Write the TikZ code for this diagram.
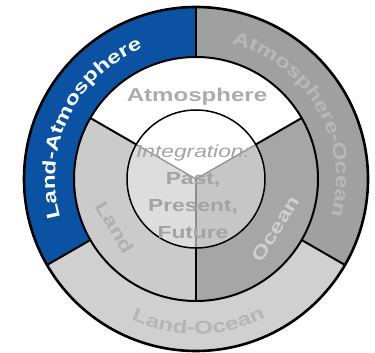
\documentclass[tikz,border=0pt]{standalone}
\usepackage{fontspec}
\setmainfont{Liberation Sans}
\newfontfamily\ringfont[FakeStretch=1.3]{Liberation Sans}
\usepackage{tikz}
\usetikzlibrary{calc,decorations.text}
\definecolor{landatm}{RGB}{12,82,162}
\definecolor{atmocean}{RGB}{160,160,160}
\definecolor{landocean}{RGB}{208,208,208}
\definecolor{landgray}{RGB}{203,203,203}
\definecolor{oceangray}{RGB}{166,166,166}
\definecolor{coreleft}{RGB}{221,221,221}
\definecolor{coreright}{RGB}{198,198,198}
\newcommand{\ringtext}{\ringfont\bfseries\fontsize{18.5}{18.5}\selectfont}
% fill, start angle, end angle, inner radius, outer radius
\newcommand{\ringpart}[5]{%
  \fill[#1] ($(C)+(#2:#4)$) arc[start angle=#2,end angle=#3,radius=#4]
    -- ($(C)+(#3:#5)$) arc[start angle=#3,end angle=#2,radius=#5] -- cycle;}

\begin{document}
\begin{tikzpicture}[x=1pt,y=1pt,line join=round]
            \tikzset{
                divider/.style={line width=2pt},
                ringlabel/.style={font=\ringtext,inner sep=0pt}
            }
            \useasboundingbox (0,0) rectangle (375,353);
            \coordinate (C) at (196,174);

            % Outer ring
            \ringpart{landatm}{90}{210}{122}{172}
            \ringpart{landocean}{210}{330}{122}{172}
            \ringpart{atmocean}{-30}{90}{122}{172}

            % Middle ring
            \ringpart{white}{30}{150}{69}{122}
            \ringpart{landgray}{150}{270}{69}{122}
            \ringpart{oceangray}{270}{390}{69}{122}

            % Core
            \fill[white] (C) -- ($(C)+(30:69)$) arc[start angle=30,end angle=150,radius=69] -- cycle;
            \fill[coreleft] (C) -- ($(C)+(150:69)$) arc[start angle=150,end angle=270,radius=69] -- cycle;
            \fill[coreright] (C) -- ($(C)+(270:69)$) arc[start angle=270,end angle=390,radius=69] -- cycle;
            \foreach \a in {30,150,270}
                \draw[black!45,line width=1.2pt] (C) -- ($(C)+(\a:69)$);

            % Circles and dividers
            \draw[line width=2.6pt] (C) circle[radius=172];
            \draw[line width=2pt] (C) circle[radius=122];
            \draw[line width=1.5pt] (C) circle[radius=69];
            \foreach \a in {90,210,330}
                \draw[divider] ($(C)+(\a:122)$) -- ($(C)+(\a:172)$);
            \foreach \a in {30,150,270}
                \draw[divider] ($(C)+(\a:69)$) -- ($(C)+(\a:122)$);

            % Ring labels
            \path[decorate,decoration={text along path,text align=center,
                text color=white,text={|\ringtext|Land-Atmosphere}}]
                ($(C)+(204:141)$) arc[start angle=204,end angle=104,radius=141];
            \path[decorate,decoration={text along path,text align=center,
                text color=black!28,text={|\ringtext|Atmosphere-Ocean}}]
                ($(C)+(87:140)$) arc[start angle=87,end angle=-27,radius=140];
            \path[decorate,decoration={text along path,text align=center,
                text color=black!29,text={|\ringtext|Land-Ocean}}]
                ($(C)+(221:155)$) arc[start angle=221,end angle=321,radius=155];

            % Segment labels
            \node[ringlabel,text=black!33,anchor=base] (atmo) at ($(C)+(1,77)$) {Atmosphere};
            \node[ringlabel,text=black!31,rotate=-59] (land) at ($(C)+(211:94)$) {Land};
            \node[ringlabel,text=black!19,rotate=58] (ocean) at ($(C)+(328:94)$) {Ocean};

            % Centre
            \node[align=center,text=black!36,inner sep=0pt,
                font=\ringfont\bfseries\fontsize{17.5}{27}\selectfont] (core) at ($(C)+(-3,-13)$)
                {\mdseries\itshape Integration:\\Past,\\Present,\\Future};
        \end{tikzpicture}
\end{document}
